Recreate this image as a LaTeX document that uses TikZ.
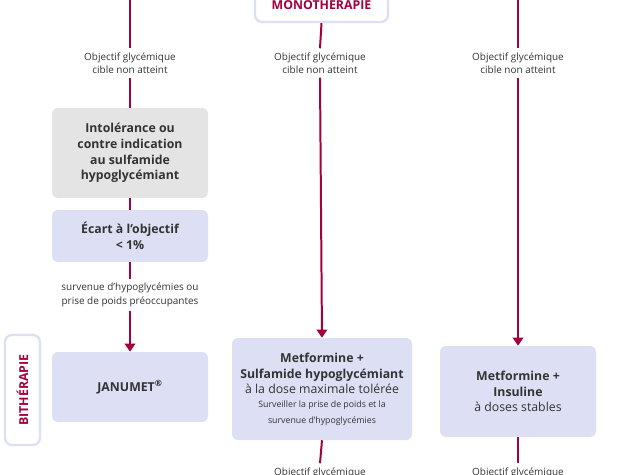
\documentclass[tikz,border=0pt]{standalone}
\usepackage{fontspec}
\setmainfont{Open Sans}
\usetikzlibrary{arrows.meta, positioning}
\definecolor{wine}{HTML}{A3003F}
\definecolor{lav}{HTML}{DDE0F4}
\definecolor{greybox}{HTML}{E4E4E4}
\definecolor{ink}{HTML}{333333}

\begin{document}
\begin{tikzpicture}[x=0.03cm, y=-0.03cm,
    link/.style={wine, line width=1.7pt},
    arr/.style={link, -{Triangle[width=9pt, length=7pt]}},
    note/.style={align=center, font=\fontsize{8.5}{11.5}\selectfont, text=ink},
    box/.style={rounded corners=5pt, fill=lav, align=center, text=ink, font=\fontsize{10.5}{13.5}\selectfont\bfseries},
    phase/.style={rounded corners=6pt, draw=lav, line width=2pt, fill=white, text=wine, font=\fontsize{10.5}{12}\selectfont\bfseries}]
    \useasboundingbox (0,0) rectangle (635,475);

    % phases
    \node[phase, minimum width=133*0.03cm, minimum height=38*0.03cm] (mono) at (321.5,3) {\raisebox{-12pt}{MONOTHÉRAPIE}};
    \node[phase, minimum width=35*0.03cm, minimum height=110*0.03cm] (bi) at (22.5,390) {};
    \node[rotate=90, text=wine, font=\fontsize{10.5}{12}\selectfont\bfseries] at (bi) {BITHÉRAPIE};

    % captions
    \node[note] (c1) at (130,63) {Objectif glycémique\\cible non atteint};
    \node[note] (c2) at (320,63) {Objectif glycémique\\cible non atteint};
    \node[note] (c3) at (518,63) {Objectif glycémique\\cible non atteint};
    \node[note] (c4) at (130,295) {survenue d'hypoglycémies ou\\prise de poids préoccupantes};
    \node[note] (c5) at (320,478) {Objectif glycémique\\cible non atteint};
    \node[note] (c6) at (518,478) {Objectif glycémique\\cible non atteint};

    % boxes
    \node[box, fill=greybox, minimum width=156*0.03cm, minimum height=90*0.03cm] (into) at (130,153)
        {Intolérance ou\\contre indication\\au sulfamide\\hypoglycémiant};
    \node[box, minimum width=156*0.03cm, minimum height=52*0.03cm] (ecart) at (130,236)
        {Écart à l’objectif\\< 1\%};
    \node[box, minimum width=156*0.03cm, minimum height=70*0.03cm] (janu) at (130,387)
        {JANUMET\textsuperscript{®}};
    \node[box, minimum width=180*0.03cm, minimum height=102*0.03cm] (sulf) at (322,389)
        {Metformine +\\Sulfamide hypoglycémiant\\
         \mdseries à la dose maximale tolérée\\[-2pt]
         \mdseries\fontsize{7.5}{10}\selectfont Surveiller la prise de poids et la\\
         \mdseries\fontsize{7.5}{10}\selectfont survenue d’hypoglycémies};
    \node[box, minimum width=156*0.03cm, minimum height=91*0.03cm] (insu) at (518,391.5)
        {Metformine +\\Insuline\\\mdseries à doses stables};

    % connectors
    \coordinate (t1) at (130,0);
    \coordinate (t3) at (518,0);
    \draw[link] (t1) -- (c1.north);
    \draw[link] (mono.south) -- (c2.north);
    \draw[link] (t3) -- (c3.north);
    \draw[link] (c1.south) -- (into.north);
    \draw[link] (into.south) -- (ecart.north);
    \draw[link] (ecart.south) -- (c4.north);
    \draw[arr] (c4.south) -- (janu.north);
    \draw[arr] (c2.south) -- (sulf.north);
    \draw[arr] (c3.south) -- (insu.north);
    \draw[link] (sulf.south) -- (c5.north);
    \draw[link] (insu.south) -- (c6.north);
\end{tikzpicture}
\end{document}
